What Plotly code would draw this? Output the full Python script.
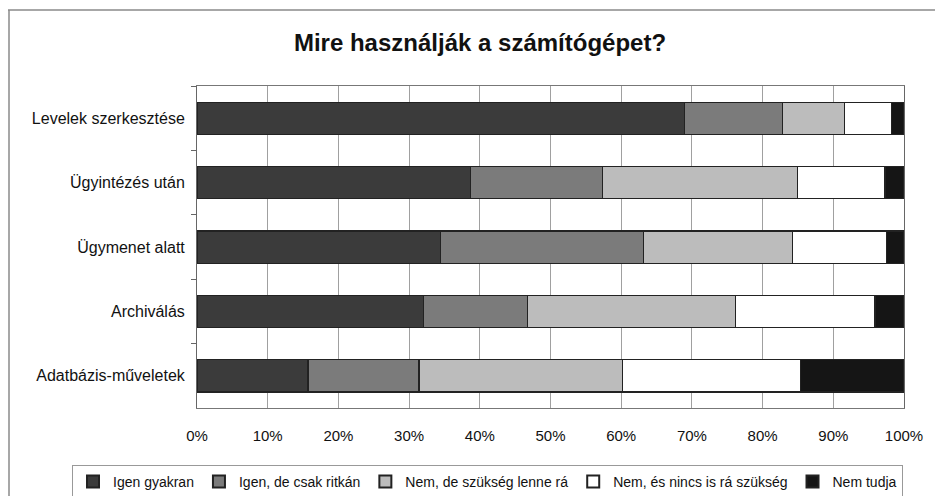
import plotly.graph_objects as go

# categories top to bottom as in the chart
categories = ['Levelek szerkesztése', 'Ügyintézés után', 'Ügymenet alatt',
              'Archiválás', 'Adatbázis-műveletek']

series_names = ['Igen gyakran', 'Igen, de csak ritkán', 'Nem, de szükség lenne rá',
                'Nem, és nincs is rá szükség', 'Nem tudja']

igen_gyakran = [69.0, 38.7, 34.4, 32.0, 15.7]
igen_ritkan = [13.8, 18.6, 28.7, 14.7, 15.7]
nem_szukseg = [8.8, 27.6, 21.1, 29.5, 28.8]
nem_nincs = [6.6, 12.4, 13.3, 19.7, 25.2]
nem_tudja = [1.8, 2.7, 2.5, 4.1, 14.6]

values = [igen_gyakran, igen_ritkan, nem_szukseg, nem_nincs, nem_tudja]
colors = ['#3b3b3b', '#7b7b7b', '#bcbcbc', '#ffffff', '#151515']

# the page body has an 8px margin, so the figure is drawn 8px in from the top-left
OFF = 8
W, H = 943 - OFF, 496 - OFF
ML, MR, MT, MB = 197 - OFF, 39, 86 - OFF, 88
pw, ph = W - ML - MR, H - MT - MB


# page pixel -> paper coords
def px(x):
    return (x - OFF - ML) / pw


def py(y):
    return (H - MB - (y - OFF)) / ph


fig = go.Figure()
for name, vals, col in zip(series_names, values, colors):
    fig.add_trace(go.Bar(
        y=categories, x=vals, name=name, orientation='h',
        marker=dict(color=col, line=dict(color='#222222', width=1.2)),
        width=0.5,
    ))

fig.update_layout(
    width=W, height=H,
    barmode='stack',
    barnorm='percent',
    plot_bgcolor='white', paper_bgcolor='white',
    margin=dict(l=ML, r=MR, t=MT, b=MB, autoexpand=False),
    font=dict(family='Liberation Sans, Arial', color='#111111'),
    title=dict(text='<b>Mire használják a számítógépet?</b>', x=(480 - OFF) / W, xanchor='center',
               y=1 - (43 - OFF) / H, yanchor='middle', font=dict(size=24, color='#111111')),
    xaxis=dict(range=[0, 100], tickvals=list(range(0, 101, 10)),
               ticktext=[f'{v}%' for v in range(0, 101, 10)],
               showgrid=True, gridcolor='#a0a0a0', gridwidth=1,
               showline=True, linecolor='#777777', mirror=True,
               ticks='', tickfont=dict(size=15), ticklabelstandoff=14,
               zeroline=False, automargin=False),
    yaxis=dict(autorange='reversed', showline=True, linecolor='#666666', mirror=True,
               ticks='outside', tickson='boundaries', ticklen=5, tickcolor='#666666',
               tickfont=dict(size=16), ticklabelstandoff=8, automargin=False),
    legend=dict(orientation='h', x=px(72), xanchor='left', y=py(465), yanchor='top',
                bordercolor='#999999', borderwidth=1, font=dict(size=14),
                traceorder='normal', itemsizing='constant'),
    showlegend=True,
)

# outer chart frame
fig.add_shape(type='line', xref='paper', yref='paper', x0=px(8), x1=px(943), y0=py(10), y1=py(10),
              line=dict(color='#8a8a8a', width=1.5))
fig.add_shape(type='line', xref='paper', yref='paper', x0=px(9), x1=px(9), y0=py(10), y1=py(496),
              line=dict(color='#8a8a8a', width=1.5))

fig.write_html("out.html")
